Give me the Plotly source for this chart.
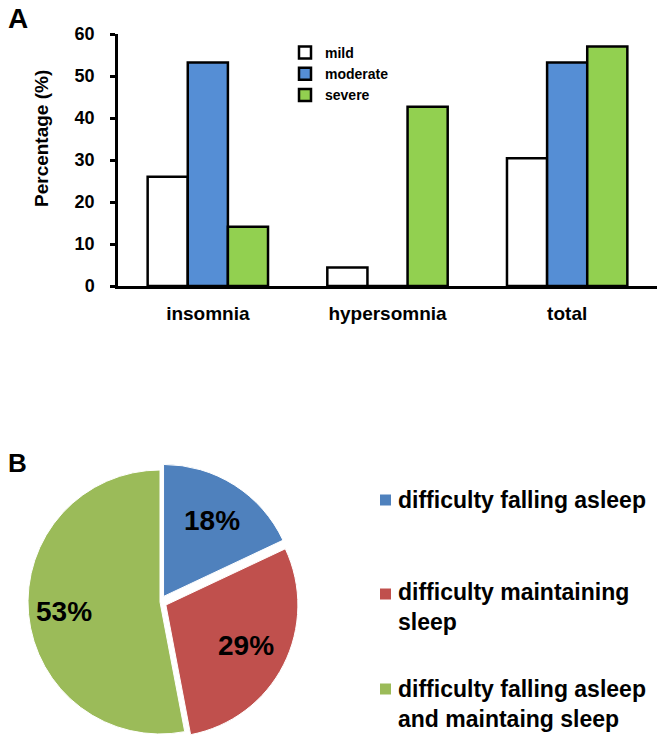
import math
import plotly.graph_objects as go

W, H = 664, 745
FONT = "Liberation Sans, Arial, sans-serif"

def px(x):
    return x / W

def py(y):
    return 1 - y / H

# ---- data ----
categories = ["insomnia", "hypersomnia", "total"]
mild = [26.0, 4.4, 30.4]
moderate = [53.2, 0.0, 53.2]
severe = [14.1, 42.7, 57.0]
severity_names = ["mild", "moderate", "severe"]
severity_colors = ["#FFFFFF", "#558ED5", "#92D050"]

pie_labels = ["difficulty falling asleep", "difficulty maintaining sleep",
              "difficulty falling asleep and maintaing sleep"]
pie_legend_text = ["difficulty falling asleep", "difficulty maintaining<br>sleep",
                   "difficulty falling asleep<br>and maintaing sleep"]
pie_values = [18, 29, 53]
pie_colors = ["#4F81BD", "#C0504D", "#9BBB59"]
pie_pull = [0.05, 0.05, 0.0]
y_ticks = [0, 10, 20, 30, 40, 50, 60]

# pie geometry (pixels)
PIE_CX, PIE_CY, PIE_HALF = 160, 602, 138.6
PIE_R = PIE_HALF / (1 + max(pie_pull))

fig = go.Figure()

for name, vals, col in zip(severity_names, [mild, moderate, severe], severity_colors):
    fig.add_trace(go.Bar(
        x=categories, y=vals, name=name,
        marker=dict(color=col, line=dict(color="black", width=2.5)),
        xaxis="x", yaxis="y",
    ))

fig.add_trace(go.Pie(
    labels=pie_labels, values=pie_values, sort=False, direction="clockwise",
    rotation=0, pull=pie_pull,
    marker=dict(colors=pie_colors, line=dict(color="white", width=1)),
    textinfo="none",
    domain=dict(x=[px(PIE_CX - PIE_HALF), px(PIE_CX + PIE_HALF)],
                y=[py(PIE_CY + PIE_HALF), py(PIE_CY - PIE_HALF)]),
    showlegend=False,
))

fig.update_layout(
    width=W, height=H,
    margin=dict(l=0, r=0, t=0, b=0, autoexpand=False),
    paper_bgcolor="white", plot_bgcolor="white",
    font=dict(family=FONT, color="black", weight="bold"),
    barmode="group", bargap=0.33, bargroupgap=0,
    xaxis=dict(domain=[px(118), px(657)], range=[-0.5, 2.5], automargin=False,
               showline=True, linecolor="black", linewidth=2.5,
               ticks="", showgrid=False, zeroline=False,
               tickfont=dict(size=19, family=FONT, weight="bold"),
               ticklabelstandoff=8),
    yaxis=dict(domain=[py(286), py(34)], range=[0, 60], automargin=False,
               tickvals=y_ticks, showline=True, linecolor="black", linewidth=2.5,
               ticks="outside", ticklen=5, tickwidth=2.5, tickcolor="black",
               showgrid=False, zeroline=False,
               tickfont=dict(size=18, family=FONT, weight="bold"),
               ticklabelstandoff=12),
    legend=dict(x=px(285), y=py(37), xanchor="left", yanchor="top",
                font=dict(size=14, family=FONT, weight="bold"),
                bgcolor="rgba(0,0,0,0)", itemwidth=30),
    showlegend=True,
)

annotations = [
    dict(text="<b>A</b>", x=px(18), y=py(18), font=dict(size=28)),
    dict(text="<b>B</b>", x=px(17), y=py(463), font=dict(size=26)),
    dict(text="<b>Percentage (%)</b>", x=px(42), y=py(139), textangle=-90,
         font=dict(size=19)),
]

# percentage labels placed along each slice's bisector
total = sum(pie_values)
cum = 0
for v in pie_values:
    mid = (cum + v / 2) / total * 2 * math.pi
    cum += v
    rr = PIE_R * 0.73
    lx = PIE_CX + rr * math.sin(mid)
    ly = PIE_CY - rr * math.cos(mid)
    annotations.append(dict(text="<b>%d%%</b>" % round(100 * v / total),
                            x=px(lx), y=py(ly), font=dict(size=28)))

legend_centers = [500, 607, 704]
for txt, yc in zip(pie_legend_text, legend_centers):
    annotations.append(dict(text="<b>" + txt + "</b>", x=px(396), y=py(yc),
                            xanchor="left", yanchor="middle", align="left",
                            font=dict(size=23)))
square_y = [500, 594, 689]
shapes = []
for col, yc in zip(pie_colors, square_y):
    shapes.append(dict(type="rect", xref="paper", yref="paper",
                       x0=px(380), x1=px(391), y0=py(yc + 5.5), y1=py(yc - 5.5),
                       fillcolor=col, line=dict(width=0)))

for a in annotations:
    a.update(xref="paper", yref="paper", showarrow=False)
    if "xanchor" not in a:
        a.update(xanchor="center", yanchor="middle")
    a["font"].update(family=FONT, color="black")

fig.update_layout(annotations=annotations, shapes=shapes)

fig.write_html("out.html", config={"displayModeBar": False},
               post_script="document.body.style.margin='0';document.body.style.overflow='hidden';")
